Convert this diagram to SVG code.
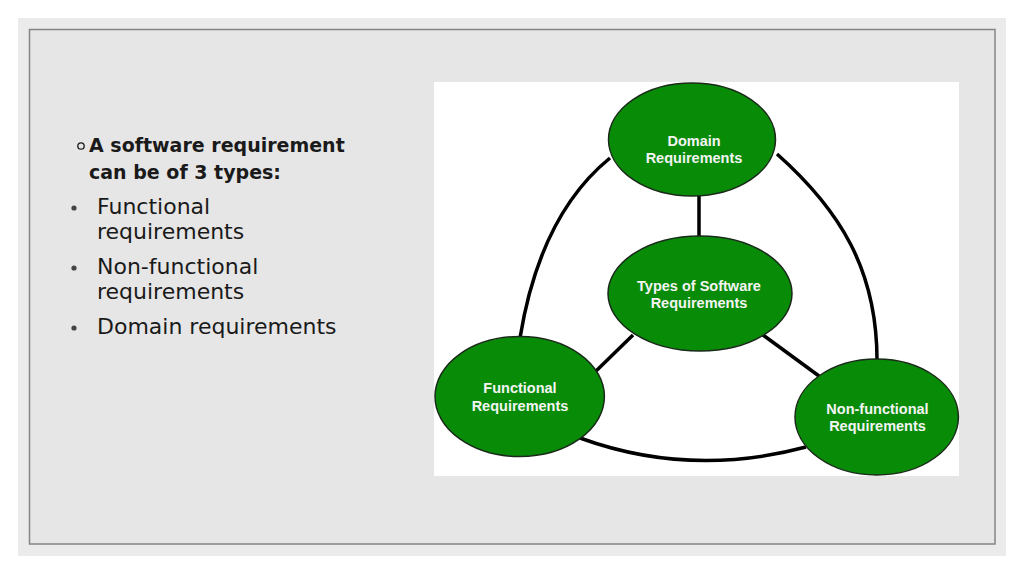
<svg xmlns="http://www.w3.org/2000/svg" width="1024" height="574" viewBox="0 0 1024 574">
<style>
.node ellipse{fill:#088c08;stroke:#1a2a1a;stroke-width:1.5}
.node text{font-family:"Liberation Sans",Arial,sans-serif;font-weight:bold;font-size:14.5px;fill:#f4f4f4;text-anchor:middle}
#connectors path,#connectors line{fill:none;stroke:#000;stroke-width:3.5}
.b{font-family:"DejaVu Sans",sans-serif;font-weight:bold;font-size:19px;fill:#1a1a1a}
.r{font-family:"DejaVu Sans",sans-serif;font-size:22px;fill:#1a1a1a}
.dot{fill:#444}
</style>
<rect x="0" y="0" width="1024" height="574" fill="#ffffff"/>
<rect x="18" y="18" width="988" height="538" fill="#ebebeb"/>
<rect x="29.5" y="29.5" width="965.5" height="514.5" fill="#e6e6e6" stroke="#858585" stroke-width="1.5"/>
<g id="bullets">
<circle cx="81" cy="146" r="3.2" fill="none" stroke="#1a1a1a" stroke-width="1.3"/>
<text class="b" x="89" y="152">A software requirement</text>
<text class="b" x="89" y="179">can be of 3 types:</text>
<circle class="dot" cx="74" cy="208" r="2.6"/>
<text class="r" x="97" y="214">Functional</text>
<text class="r" x="97" y="239">requirements</text>
<circle class="dot" cx="74" cy="268" r="2.6"/>
<text class="r" x="97" y="274">Non-functional</text>
<text class="r" x="97" y="299">requirements</text>
<circle class="dot" cx="74" cy="328" r="2.6"/>
<text class="r" x="97" y="334">Domain requirements</text>
</g>
<rect x="434" y="82" width="525" height="394" fill="#ffffff"/>
<g id="connectors">
<line x1="699" y1="194" x2="699" y2="237"/>
<line x1="633" y1="335" x2="596" y2="371"/>
<line x1="763" y1="335" x2="819" y2="376"/>
<path d="M520,338 Q540,215 610,158"/>
<path d="M777,154 C840,210 877,270 877,360"/>
<path d="M580,438 Q690,478 806,447"/>
</g>
<g id="node-domain" class="node">
<ellipse cx="692" cy="139.5" rx="83.5" ry="56.5"/>
<text x="694" y="146">Domain</text>
<text x="694" y="163">Requirements</text>
</g>
<g id="node-types" class="node">
<ellipse cx="700" cy="293.5" rx="92" ry="57.5"/>
<text x="699" y="291">Types of Software</text>
<text x="699" y="308">Requirements</text>
</g>
<g id="node-functional" class="node">
<ellipse cx="519.7" cy="396.5" rx="84.7" ry="60"/>
<text x="520" y="393">Functional</text>
<text x="520" y="411">Requirements</text>
</g>
<g id="node-nonfunctional" class="node">
<ellipse cx="876.7" cy="417" rx="81.7" ry="58"/>
<text x="877.5" y="414">Non-functional</text>
<text x="877.5" y="431">Requirements</text>
</g>
</svg>
